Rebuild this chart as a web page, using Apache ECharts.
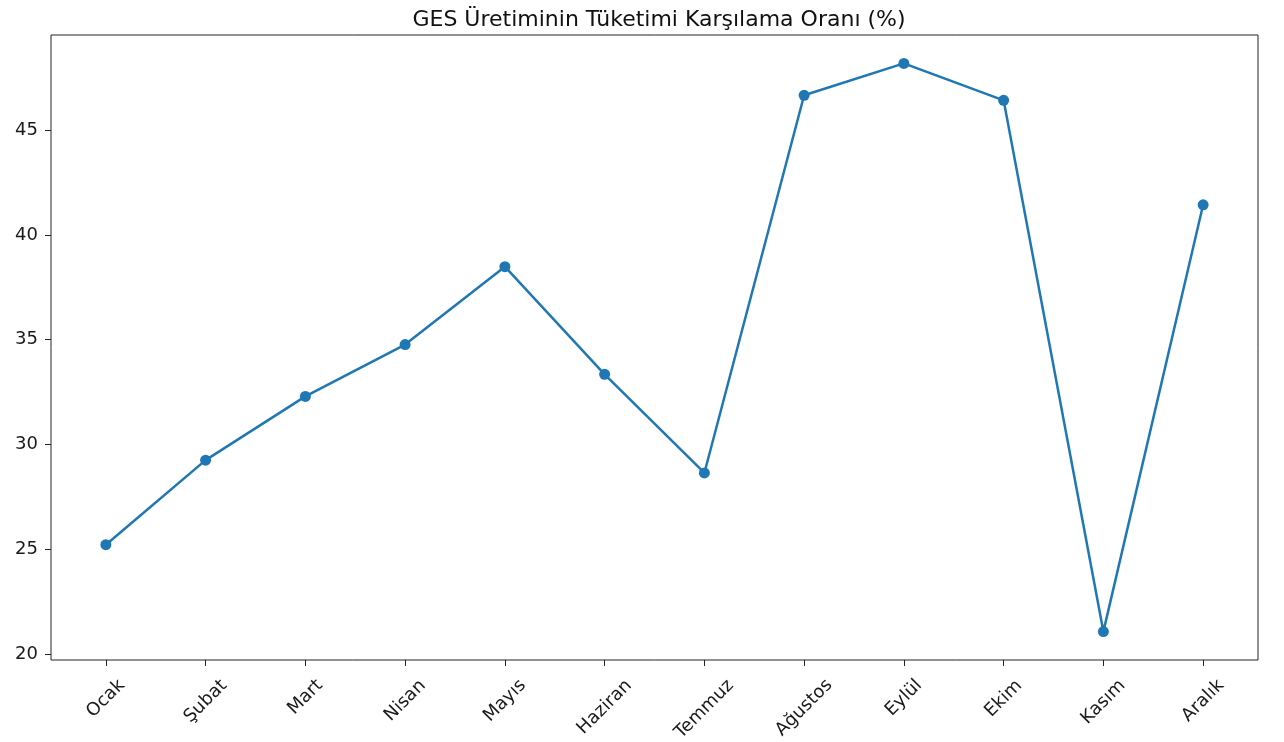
<!DOCTYPE html>
<html>
<head>
<meta charset="utf-8">
<script src="https://cdn.jsdelivr.net/npm/echarts@6/dist/echarts.min.js"></script>
<style>
html,body{margin:0;padding:0;background:#fff;}
#chart{width:1284px;height:742px;}
</style>
</head>
<body>
<div id="chart"></div>
<script>
const title = 'GES Üretiminin Tüketimi Karşılama Oranı (%)';
const months = ['Ocak','Şubat','Mart','Nisan','Mayıs','Haziran','Temmuz','Ağustos','Eylül','Ekim','Kasım','Aralık'];
const ratios = [25.23, 29.26, 32.30, 34.77, 38.48, 33.35, 28.65, 46.65, 48.17, 46.41, 21.09, 41.43];
const yTicks = [20, 25, 30, 35, 40, 45];

const FONT = 'DejaVu Sans';
const FS = 18;

// matplotlib-like 5% margins
const dMin = Math.min.apply(null, ratios), dMax = Math.max.apply(null, ratios);
const pad = (dMax - dMin) * 0.05;
const xIdx = months.map((m, i) => i);
const xPad = (months.length - 1) * 0.05;

// per-label padding so rotated labels are centred under ticks (matplotlib ha=center)
const cv = document.createElement('canvas').getContext('2d');
cv.font = FS + 'px "' + FONT + '"';
const rich = {};
months.forEach((m, i) => {
  const L = cv.measureText(m).width;
  const a = Math.round((L + 19) / 2);
  rich['m' + i] = { fontFamily: FONT, fontSize: FS, color: '#1a1a1a', padding: [a, a, 0, 0] };
});

const chart = echarts.init(document.getElementById('chart'));
chart.setOption({
  animation: false,
  backgroundColor: '#fff',
  title: {
    text: title,
    left: 654, top: 4, textAlign: 'center',
    textStyle: { fontFamily: FONT, fontSize: 22, fontWeight: 'normal', color: '#111' }
  },
  grid: {
    left: 51, right: 26, top: 35, bottom: 82,
    show: true, borderColor: '#222', borderWidth: 1, backgroundColor: 'transparent',
    outerBoundsMode: 'none'
  },
  xAxis: {
    type: 'value',
    min: -xPad, max: months.length - 1 + xPad,
    splitLine: { show: false },
    axisLine: { show: false, onZero: false },
    axisTick: { show: true, length: 6, lineStyle: { color: '#222', width: 1 }, customValues: xIdx },
    axisLabel: {
      customValues: xIdx,
      rotate: 45,
      align: 'center',
      verticalAlign: 'middle',
      margin: 16,
      formatter: v => { const i = Math.round(v); return '{m' + i + '|' + months[i] + '}'; },
      rich: rich
    }
  },
  yAxis: {
    type: 'value',
    min: dMin - pad, max: dMax + pad,
    splitLine: { show: false },
    axisLine: { show: false, onZero: false },
    axisTick: { show: true, length: 6, lineStyle: { color: '#222', width: 1 }, customValues: yTicks },
    axisLabel: {
      customValues: yTicks,
      margin: 13,
      fontFamily: FONT, fontSize: FS, color: '#1a1a1a',
      formatter: v => String(Math.round(v))
    }
  },
  series: [{
    type: 'line',
    data: ratios.map((v, i) => [i, v]),
    symbol: 'circle',
    symbolSize: 11,
    showSymbol: true,
    lineStyle: { color: '#1f77b4', width: 2.5 },
    itemStyle: { color: '#1f77b4' }
  }]
});
</script>
</body>
</html>
